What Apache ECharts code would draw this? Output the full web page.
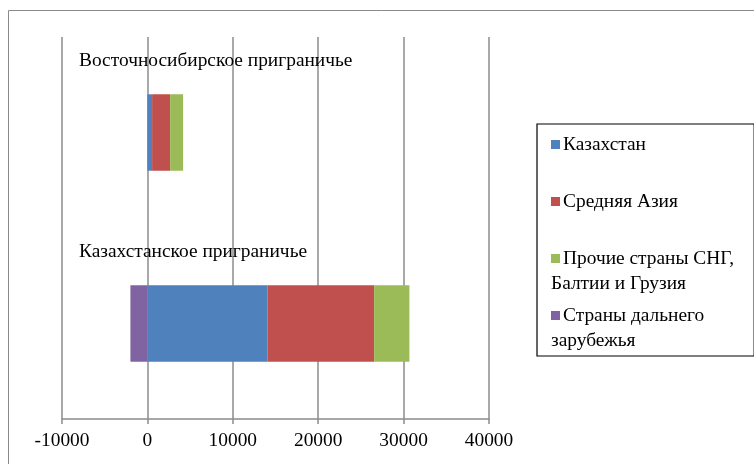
<!DOCTYPE html>
<html>
<head>
<meta charset="utf-8">
<script src="https://cdn.jsdelivr.net/npm/echarts@6/dist/echarts.min.js"></script>
<style>
html,body{margin:0;padding:0;background:#fff;}
#chart{width:754px;height:464px;}
</style>
</head>
<body>
<div id="chart"></div>
<script>
const categories = ['Казахстанское приграничье', 'Восточносибирское приграничье'];
const seriesNames = ['Казахстан', 'Средняя Азия', 'Прочие страны СНГ, Балтии и Грузия', 'Страны дальнего зарубежья'];
const legendLabels = ['Казахстан\n ', 'Средняя Азия\n ', 'Прочие страны СНГ,\nБалтии и Грузия', 'Страны дальнего\nзарубежья'];
const kazakhstan = [14050, 550];
const centralAsia = [12500, 2110];
const otherCIS = [4130, 1520];
const farAbroad = [-1990, 0];
const xTicks = { min: -10000, max: 40000, interval: 10000 };

const colors = ['#4F81BD', '#C0504D', '#9BBB59', '#8064A2'];
const values = [kazakhstan, centralAsia, otherCIS, farAbroad];
const FONT = '"Liberation Serif", "Times New Roman", serif';
const FS = 19.4;

const chart = echarts.init(document.getElementById('chart'), null, { renderer: 'canvas' });

const legendData = seriesNames.map((n, i) => ({
  name: n,
  textStyle: {
    rich: {
      sq: { width: 9, height: 9, backgroundColor: colors[i], verticalAlign: 'middle' },
      g: { width: 3, height: 9 }
    }
  }
}));

const option = {
  animation: false,
  backgroundColor: '#fff',
  color: colors,
  graphic: [{
    type: 'rect',
    z: -10,
    shape: { x: 8.5, y: 10.5, width: 800, height: 500 },
    style: { fill: 'none', stroke: '#8a8a8a', lineWidth: 1 }
  }],
  grid: { left: 62, right: 265, top: 37, bottom: 45, containLabel: false },
  legend: {
    orient: 'vertical',
    left: 537,
    top: 124,
    padding: [8, 20, 3, 9],
    itemGap: 7,
    icon: 'none',
    itemWidth: 0,
    itemHeight: 9,
    borderColor: '#000',
    borderWidth: 1.2,
    selectedMode: false,
    data: legendData,
    formatter: function (name) {
      return '{sq|}{g|}' + legendLabels[seriesNames.indexOf(name)];
    },
    textStyle: { fontFamily: FONT, fontSize: FS, color: '#000', lineHeight: 25 }
  },
  xAxis: {
    type: 'value',
    min: xTicks.min,
    max: xTicks.max,
    interval: xTicks.interval,
    axisLine: { show: true, lineStyle: { color: '#8c8c8c', width: 1.5 } },
    axisTick: { show: true, length: 5, lineStyle: { color: '#8c8c8c', width: 1.5 } },
    axisLabel: { fontFamily: FONT, fontSize: FS, color: '#000', margin: 12, formatter: v => String(v) },
    splitLine: { show: true, lineStyle: { color: '#8c8c8c', width: 1.5 } }
  },
  yAxis: {
    type: 'category',
    data: categories,
    axisLine: { show: false },
    axisTick: { show: false },
    splitLine: { show: false },
    axisLabel: {
      inside: true,
      margin: 17,
      fontFamily: FONT,
      fontSize: FS,
      color: '#000',
      verticalAlign: 'bottom',
      lineHeight: 20,
      padding: [0, 0, 62, 0]
    }
  },
  series: seriesNames.map((n, i) => ({
    name: n,
    type: 'bar',
    stack: 'total',
    barCategoryGap: '60%',
    data: values[i],
    itemStyle: { color: colors[i] }
  }))
};
chart.setOption(option);
</script>
</body>
</html>
